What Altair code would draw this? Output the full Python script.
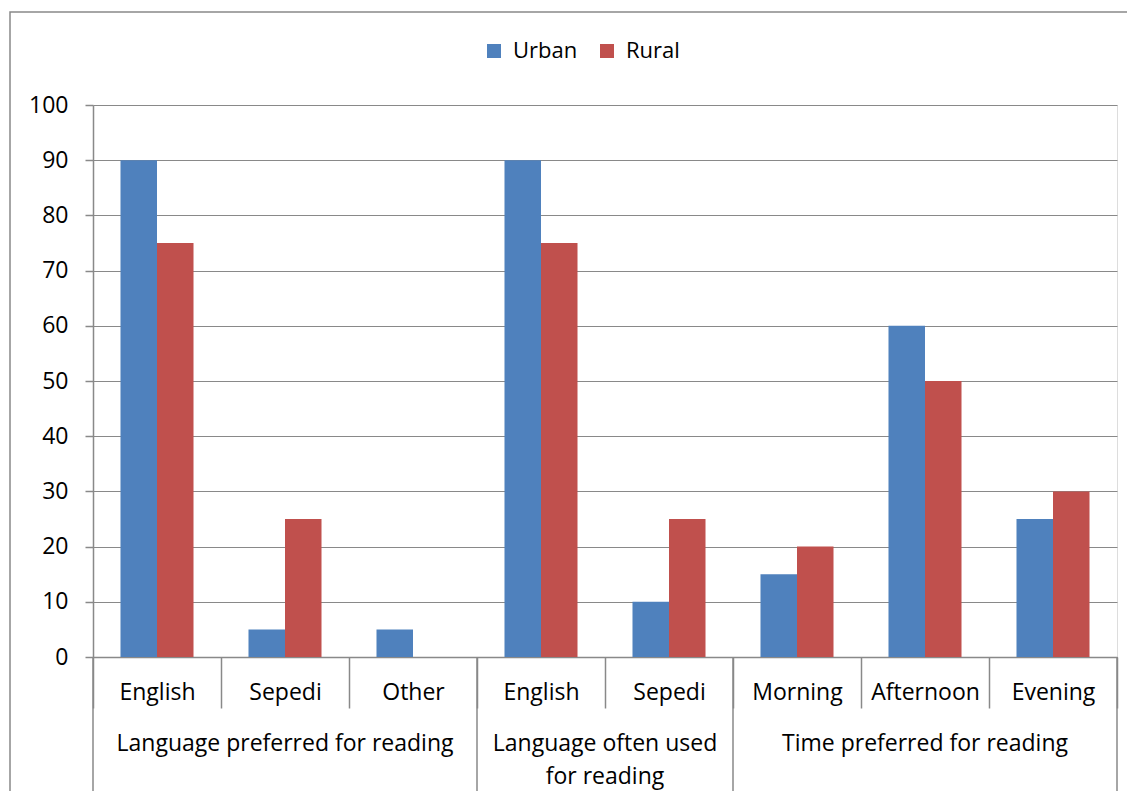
import altair as alt
import pandas as pd

# ---- data ----
groups = ["Language preferred for reading", "Language preferred for reading", "Language preferred for reading",
          "Language often used for reading", "Language often used for reading",
          "Time preferred for reading", "Time preferred for reading", "Time preferred for reading"]
categories = ["English", "Sepedi", "Other", "English", "Sepedi", "Morning", "Afternoon", "Evening"]
urban = [90, 5, 5, 90, 10, 15, 60, 25]
rural = [75, 25, 0, 75, 25, 20, 50, 30]
series = ["Urban", "Rural"]
colors = ["#4F81BD", "#C0504D"]
y_ticks = [0, 10, 20, 30, 40, 50, 60, 70, 80, 90, 100]

keys = [f"{i}|{c}" for i, c in enumerate(categories)]

rows = []
for k, g, u, r in zip(keys, groups, urban, rural):
    rows.append({"key": k, "group": g, "series": "Urban", "value": u})
    rows.append({"key": k, "group": g, "series": "Rural", "value": r})
df = pd.DataFrame(rows)

# group label anchors
group_mid_band = pd.DataFrame([
    {"key": keys[1], "label": "Language preferred for reading"},
    {"key": keys[6], "label": "Time preferred for reading"},
])
group_mid_edge = pd.DataFrame([
    {"key": keys[3], "label": "Language often used\nfor reading"},
])
group_starts = pd.DataFrame([{"key": keys[0]}, {"key": keys[3]}, {"key": keys[5]}])
group_end = pd.DataFrame([{"key": keys[7]}])

GRAY = "#898989"
FONT = "Open Sans"
FS = 23

xscale = alt.Scale(domain=keys, paddingInner=0, paddingOuter=0)

bars = alt.Chart(df).mark_bar().encode(
    x=alt.X("key:N", scale=xscale, sort=None, title=None,
            axis=alt.Axis(labelExpr="split(datum.label, '|')[1]", labelAngle=0,
                          tickBand="extent", tickSize=51, tickColor=GRAY, tickWidth=1.5,
                          domainColor=GRAY, domainWidth=1.5, labelPadding=-27,
                          labelFontSize=FS, labelColor="black", labelFont=FONT)),
    xOffset=alt.XOffset("series:N", sort=series,
                        scale=alt.Scale(paddingOuter=0.753, paddingInner=0)),
    y=alt.Y("value:Q", scale=alt.Scale(domain=[0, 100]), title=None,
            axis=alt.Axis(values=y_ticks, grid=True, gridColor=GRAY, gridWidth=1.2,
                          tickSize=8, tickColor=GRAY, tickWidth=1.5,
                          domainColor=GRAY, domainWidth=1.5, labelPadding=17,
                          labelFontSize=FS, labelColor="black", labelFont=FONT)),
    color=alt.Color("series:N", scale=alt.Scale(domain=series, range=colors), title=None,
                    legend=alt.Legend(orient="none", legendX=390, legendY=-65, direction="horizontal",
                                      symbolType="square", symbolSize=196, symbolStrokeWidth=0,
                                      labelFontSize=22, labelFont=FONT, labelColor="black",
                                      labelOffset=8, columnPadding=18, padding=0)),
)

sep_start = alt.Chart(group_starts).mark_rule(color=GRAY, strokeWidth=1.5).encode(
    x=alt.X("key:N", scale=xscale, bandPosition=0, title=None),
    y=alt.value(552), y2=alt.value(687),
)
sep_end = alt.Chart(group_end).mark_rule(color=GRAY, strokeWidth=1.5).encode(
    x=alt.X("key:N", scale=xscale, bandPosition=1, title=None),
    y=alt.value(552), y2=alt.value(687),
)

lbl_a = alt.Chart(group_mid_band).mark_text(fontSize=FS, font=FONT, color="black",
                                            baseline="top", lineBreak="\n", lineHeight=33).encode(
    x=alt.X("key:N", scale=xscale, bandPosition=0.5, title=None),
    y=alt.value(628),
    text="label:N",
)
lbl_b = alt.Chart(group_mid_edge).mark_text(fontSize=FS, font=FONT, color="black",
                                            baseline="top", lineBreak="\n", lineHeight=33).encode(
    x=alt.X("key:N", scale=xscale, bandPosition=1, title=None),
    y=alt.value(628),
    text="label:N",
)

border = alt.Chart(pd.DataFrame([{"a": 1}])).mark_rect(fillOpacity=0, stroke=GRAY, strokeWidth=1.5).encode(
    x=alt.value(-83), x2=alt.value(1200), y=alt.value(-93), y2=alt.value(900),
)

chart = alt.layer(border, bars, sep_start, sep_end, lbl_a, lbl_b).properties(
    width=1024, height=552,
    autosize=alt.AutoSizeParams(type="none"),
    padding={"left": 85, "top": 97, "right": 10, "bottom": 134},
).configure_view(stroke=None).configure(font=FONT)

chart.save("out.html", embed_options={"renderer": "svg", "actions": False})
